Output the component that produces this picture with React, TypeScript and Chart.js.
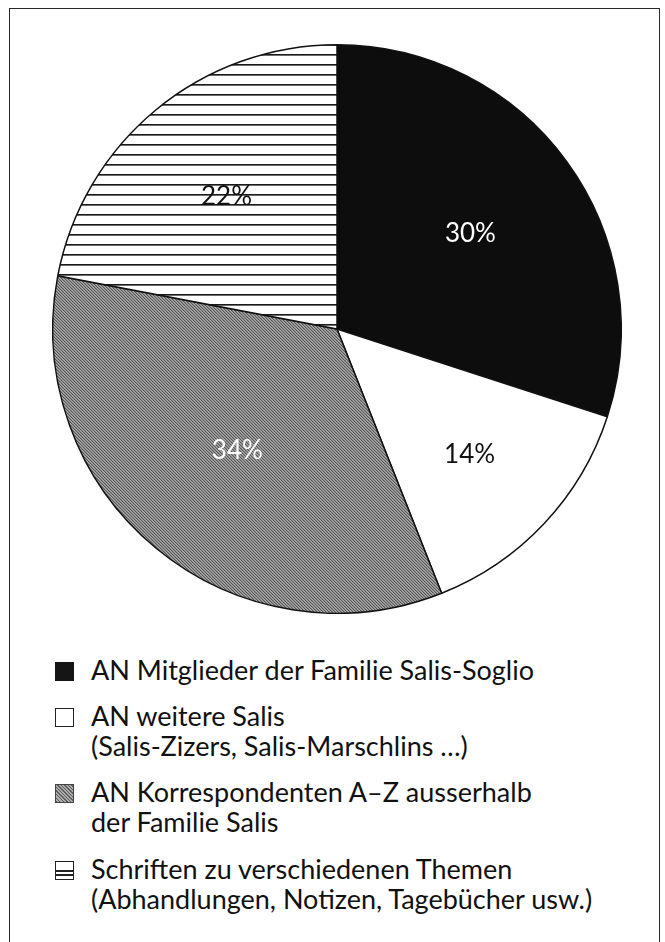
import React, { useEffect, useRef } from "react";
import { Chart, registerables } from "chart.js";

Chart.register(...registerables);

// ---- data ----
const categories = [
  "AN Mitglieder der Familie Salis-Soglio",
  "AN weitere Salis (Salis-Zizers, Salis-Marschlins …)",
  "AN Korrespondenten A–Z ausserhalb der Familie Salis",
  "Schriften zu verschiedenen Themen (Abhandlungen, Notizen, Tagebücher usw.)",
];
const legendLines = [
  ["AN Mitglieder der Familie Salis-Soglio"],
  ["AN weitere Salis", "(Salis-Zizers, Salis-Marschlins …)"],
  ["AN Korrespondenten A–Z ausserhalb", "der Familie Salis"],
  ["Schriften zu verschiedenen Themen", "(Abhandlungen, Notizen, Tagebücher usw.)"],
];
const shares = [30, 14, 34, 22];
const percentLabels = ["30%", "14%", "34%", "22%"];

// ---- styling ----
const FONT = "Lato, 'Open Sans', sans-serif";
const labelColors = ["#ffffff", "#111111", "#ffffff", "#111111"];
const labelRadius = [0.58, 0.64, 0.55, 0.61];

function diagPattern(): CanvasPattern | string {
  const n = 3;
  const c = document.createElement("canvas");
  c.width = n;
  c.height = n;
  const g = c.getContext("2d");
  if (!g) return "#8c8c8c";
  const img = g.createImageData(n, n);
  const tones = [0x58, 0x8c, 0xa8];
  for (let y = 0; y < n; y++) {
    for (let x = 0; x < n; x++) {
      const k = (((x - y) % n) + n) % n;
      const v = tones[k];
      const i = (y * n + x) * 4;
      img.data[i] = v;
      img.data[i + 1] = v;
      img.data[i + 2] = v;
      img.data[i + 3] = 255;
    }
  }
  g.putImageData(img, 0, 0);
  return g.createPattern(c, "repeat") || "#8c8c8c";
}

function hLinePattern(): CanvasPattern | string {
  const c = document.createElement("canvas");
  c.width = 4;
  c.height = 10;
  const g = c.getContext("2d");
  if (!g) return "#ffffff";
  g.fillStyle = "#ffffff";
  g.fillRect(0, 0, 4, 10);
  g.fillStyle = "#1a1a1a";
  g.fillRect(0, 0, 4, 1);
  g.fillStyle = "#6a6a6a";
  g.fillRect(0, 1, 4, 1);
  return g.createPattern(c, "repeat") || "#ffffff";
}

const sliceLabelPlugin = {
  id: "sliceLabels",
  afterDatasetsDraw(chart: any) {
    const meta = chart.getDatasetMeta(0);
    const ctx = chart.ctx as CanvasRenderingContext2D;
    ctx.save();
    ctx.font = `26px ${FONT}`;
    ctx.textAlign = "center";
    ctx.textBaseline = "alphabetic";
    meta.data.forEach((arc: any, i: number) => {
      const p = arc.getProps(["x", "y", "startAngle", "endAngle", "outerRadius"], true);
      const mid = (p.startAngle + p.endAngle) / 2;
      const r = p.outerRadius * labelRadius[i];
      ctx.fillStyle = labelColors[i];
      ctx.fillText(percentLabels[i], p.x + Math.cos(mid) * r, p.y + Math.sin(mid) * r + 9.5);
    });
    ctx.restore();
  },
};

const swatchStyles: React.CSSProperties[] = [
  { background: "#151515", border: "1px solid #151515" },
  { background: "#ffffff", border: "1.5px solid #222" },
  {
    background:
      "repeating-linear-gradient(45deg, #5e5e5e 0px, #5e5e5e 1px, #acacac 1px, #acacac 2.5px)",
    border: "1px solid #444",
  },
  {
    background:
      "linear-gradient(to bottom, #fff 0%, #fff 50%, #222 50%, #222 58%, #fff 58%, #fff 72%, #222 72%, #222 80%, #fff 80%)",
    border: "1.5px solid #222",
  },
];
const rowTops = [656, 702, 778, 855];
const swatchTops = [662, 708, 784, 861];

export default function App() {
  const canvasRef = useRef<HTMLCanvasElement | null>(null);

  useEffect(() => {
    if (!canvasRef.current) return;
    const chart = new Chart(canvasRef.current, {
      type: "pie",
      data: {
        labels: categories,
        datasets: [
          {
            data: shares,
            backgroundColor: ["#0d0d0d", "#ffffff", diagPattern(), hLinePattern()] as any,
            borderColor: "#111111",
            borderWidth: 1.5,
            hoverOffset: 0,
          },
        ],
      },
      options: {
        responsive: false,
        animation: false,
        rotation: 0,
        layout: { padding: 0 },
        plugins: {
          legend: { display: false },
          tooltip: { enabled: false },
        },
      },
      plugins: [sliceLabelPlugin],
    });
    return () => chart.destroy();
  }, []);

  return (
    <div
      style={{
        position: "absolute",
        left: 0,
        top: 0,
        width: 665,
        height: 942,
        background: "#ffffff",
        overflow: "hidden",
        fontFamily: FONT,
      }}
    >
      <div
        style={{
          position: "absolute",
          left: 9,
          top: 8,
          width: 651,
          height: 960,
          boxSizing: "border-box",
          border: "1.5px solid #2a2a2a",
          borderBottom: "none",
        }}
      />
      <canvas
        ref={canvasRef}
        width={570}
        height={570}
        style={{ position: "absolute", left: 52, top: 44, width: 570, height: 570 }}
      />
      {legendLines.map((lines, i) => (
        <React.Fragment key={i}>
          <div
            style={{
              position: "absolute",
              left: 55,
              top: swatchTops[i],
              width: 19,
              height: 19,
              boxSizing: "border-box",
              ...swatchStyles[i],
            }}
          />
          <div
            style={{
              position: "absolute",
              left: 91,
              top: rowTops[i] - 1,
              fontSize: 27,
              fontWeight: 400,
              lineHeight: "30px",
              color: "#111111",
              whiteSpace: "nowrap",
            }}
          >
            {lines.map((t, j) => (
              <div key={j}>{t}</div>
            ))}
          </div>
        </React.Fragment>
      ))}
    </div>
  );
}
